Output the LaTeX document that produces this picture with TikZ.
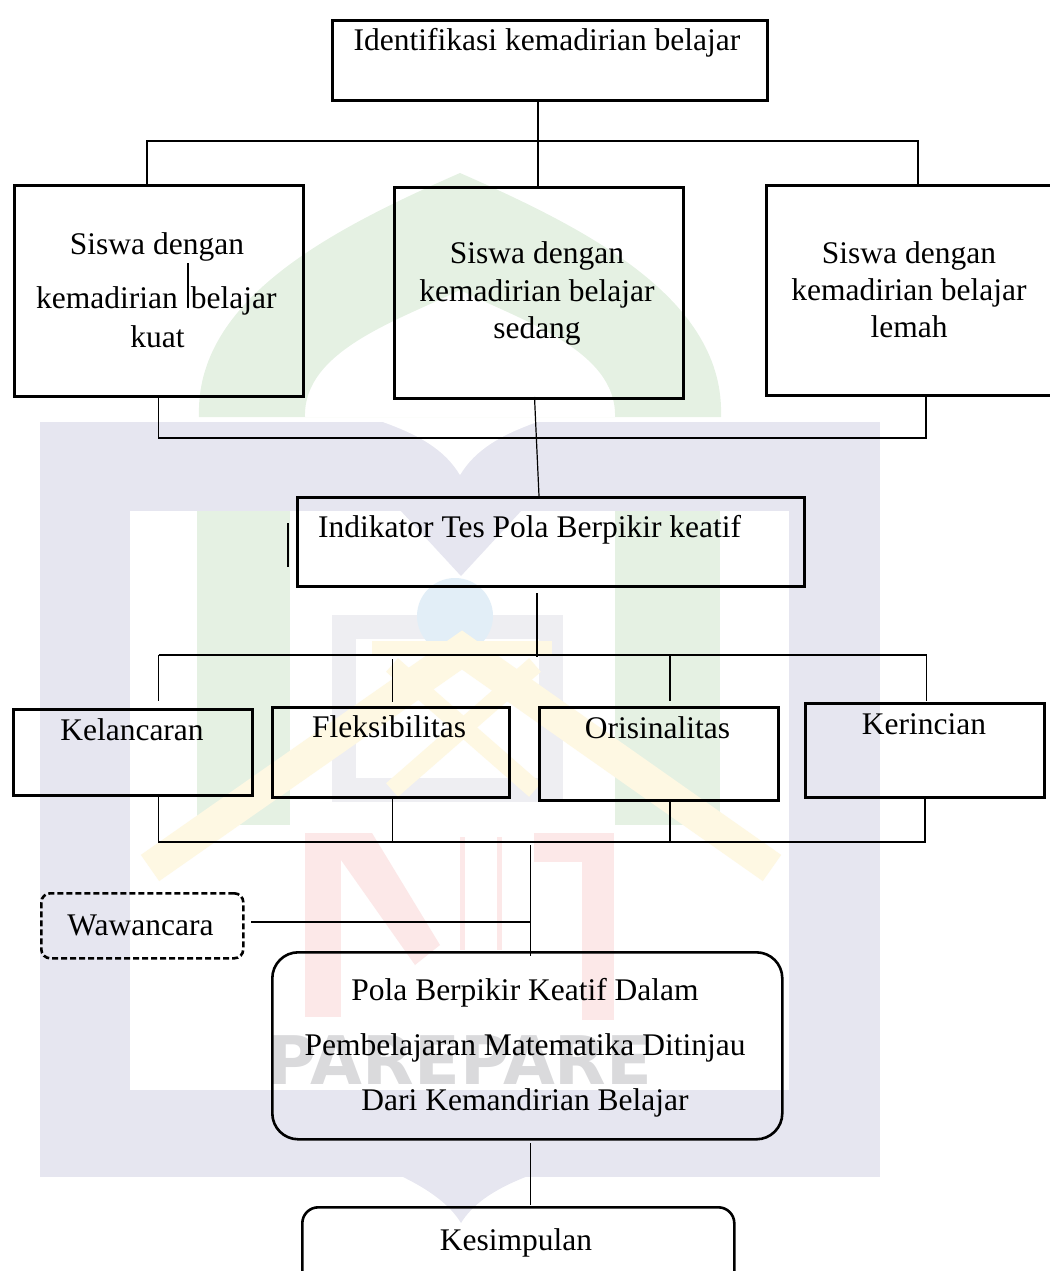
\documentclass[tikz,border=0pt]{standalone}
\usepackage{fontspec}
\setmainfont{Liberation Serif}
\newfontfamily\wmfont{DejaVu Sans}
\definecolor{wmlav}{HTML}{E6E6F0}
\definecolor{wmgreen}{HTML}{E5F1E3}
\definecolor{wmyel}{HTML}{FEF8E3}
\definecolor{wmred}{HTML}{FCE8E8}
\definecolor{wmblue}{HTML}{E2EEF7}
\definecolor{wmframe}{HTML}{EEEEF2}
\definecolor{wmgrey}{HTML}{DADADC}
\tikzset{
  boxn/.style={draw=black, line width=2.6pt, inner sep=0pt, anchor=north west},
  txt/.style={inner sep=0pt, anchor=base, font=\fontsize{31.5}{36}\selectfont},
  conn/.style={line width=1.2pt, black},
}
\begin{document}
\begin{tikzpicture}[x=1pt,y=-1pt]
\useasboundingbox (0,0) rectangle (1049,1271);
% ---------- watermark ----------
\fill[wmlav] (40,422) rectangle (880,1177);
\fill[wmlav] (401,1176) .. controls (430,1190) and (450,1205) .. (461,1223) .. controls (472,1205) and (492,1190) .. (528,1176) -- cycle;
\fill[white] (130,511) rectangle (789,1090);
\fill[wmlav] (400,510) -- (461,576) -- (522,510) -- cycle;
\fill[white] (380,421) .. controls (420,435) and (445,450) .. (460,475) .. controls (475,450) and (500,435) .. (540,421) -- cycle;
\fill[wmgreen, even odd rule] (199,417) .. controls (195,300) and (330,230) .. (460,173) .. controls (590,230) and (725,300) .. (721,417) -- cycle
  (305,417) .. controls (303,350) and (400,320) .. (460,290) .. controls (520,320) and (617,350) .. (615,417) -- cycle;
\fill[wmgreen] (197,511) rectangle (290,825);
\fill[wmgreen] (615,511) rectangle (720,825);
\draw[wmframe, line width=24pt] (344,627) rectangle (551,790);
\fill[wmblue] (455,616) circle[radius=38];
\draw[wmyel, line width=32pt, line join=miter] (150,868) -- (462,650) -- (772,868);
\draw[wmyel, line width=14pt] (372,648) -- (552,648);
\draw[wmyel, line width=18pt] (392,665) -- (535,790) (535,665) -- (392,790);
\fill[wmred] (305,833) rectangle (341,1017);
\fill[wmred] (341,833) -- (372,833) -- (440,945) -- (415,965) -- (341,860) -- cycle;
\fill[wmred] (534,833) rectangle (614,862);
\fill[wmred] (582,833) rectangle (614,1020);
\draw[wmred, line width=5pt] (462,837) -- (462,950) (499,837) -- (499,950);
\node[font=\wmfont\bfseries\fontsize{67}{67}\selectfont, text=wmgrey, anchor=base, inner sep=0pt] (wm) at (460,1084) {PAREPARE};
% ---------- boxes ----------
\node[boxn, minimum width=435pt, minimum height=80pt] (top) at (331,19) {};
\node[boxn, minimum width=289pt, minimum height=211pt] (kuat) at (13,184) {};
\node[boxn, minimum width=289pt, minimum height=211pt] (sedang) at (393,186) {};
\node[boxn, minimum width=292pt, minimum height=210pt] (lemah) at (765,184) {};
\node[boxn, minimum width=507pt, minimum height=89pt] (indik) at (296,496) {};
\node[boxn, minimum width=239pt, minimum height=86pt] (kel) at (12,708) {};
\node[boxn, minimum width=237pt, minimum height=90pt] (fle) at (271,706) {};
\node[boxn, minimum width=239pt, minimum height=93pt] (ori) at (538,706) {};
\node[boxn, minimum width=239pt, minimum height=94pt] (ker) at (804,702) {};
\node[boxn, minimum width=202pt, minimum height=65pt, rounded corners=9pt, dash pattern=on 6pt off 3pt] (waw) at (40,892) {};
\node[boxn, minimum width=510pt, minimum height=187pt, rounded corners=26pt] (pola) at (271,951) {};
\node[boxn, minimum width=432pt, minimum height=95pt, rounded corners=16pt] (kes) at (301,1206) {};
% ---------- texts ----------
\node[txt] (ttop) at (547,51) {Identifikasi kemadirian belajar};
\node[txt] (tk1) at (157,254) {Siswa dengan};
\node[txt, anchor=base west] (tk2) at (36,308) {kemadirian\hspace{13pt}belajar};
\node[txt] (tk3) at (157.5,347) {kuat};
\node[txt] (ts1) at (537,263) {Siswa dengan};
\node[txt] (ts2) at (537,301) {kemadirian belajar};
\node[txt] (ts3) at (537,338) {sedang};
\node[txt] (tl1) at (909,263) {Siswa dengan};
\node[txt] (tl2) at (909,300) {kemadirian belajar};
\node[txt] (tl3) at (909,337) {lemah};
\node[txt, anchor=base west] (ti) at (318,537) {Indikator Tes Pola Berpikir keatif};
\node[txt] (tkel) at (132,740) {Kelancaran};
\node[txt] (tfle) at (389,737) {Fleksibilitas};
\node[txt] (tori) at (657.5,738) {Orisinalitas};
\node[txt] (tker) at (924,734) {Kerincian};
\node[txt] (twaw) at (140.5,935) {Wawancara};
\node[txt] (tp1) at (525,1000) {Pola Berpikir Keatif Dalam};
\node[txt] (tp2) at (525,1055) {Pembelajaran Matematika Ditinjau};
\node[txt] (tp3) at (525,1110) {Dari Kemandirian Belajar};
\node[txt] (tkes) at (516,1250) {Kesimpulan};
% ---------- connectors ----------
\coordinate (c1) at (538,141);
\coordinate (hl) at (147,141);
\coordinate (hr) at (918,141);
\draw[conn] (c1 |- top.south) -- (c1 |- sedang.north);
\draw[conn] (hl |- kuat.north) -- (hl) -- (hr) -- (hr |- lemah.north);
\coordinate (bl) at (158.5,438);
\coordinate (br) at (926,438);
\draw[conn] (bl |- kuat.south) -- (bl) -- (br) -- (br |- lemah.south);
\coordinate (s1) at (534.5,397);
\coordinate (s2) at (539,496);
\draw[conn] (s1) -- (s2);
\coordinate (i1) at (537,593);
\coordinate (i2) at (537,657);
\draw[conn] (i1) -- (i2);
\coordinate (ml) at (158.5,655);
\coordinate (mr) at (926.5,655);
\draw[conn] (ml) -- (mr);
\coordinate (xa) at (158.5,701);
\coordinate (xb1) at (392.6,659);
\coordinate (xb2) at (392.6,702);
\coordinate (xc) at (670,701);
\coordinate (xd) at (926.5,701);
\draw[conn] (ml) -- (xa);
\draw[conn] (xb1) -- (xb2);
\draw[conn] (xc |- ml) -- (xc);
\draw[conn] (mr) -- (xd);
\coordinate (ll) at (158.5,842);
\coordinate (lr) at (925,842);
\draw[conn] (ll |- kel.south) -- (ll) -- (lr) -- (lr |- ker.south);
\draw[conn] (392.6,796) -- (392.6,842);
\draw[conn] (670,799) -- (670,842);
\coordinate (v1) at (530.5,845);
\coordinate (v2) at (530.5,956);
\draw[conn] (v1) -- (v2);
\coordinate (w1) at (251,922);
\draw[conn] (w1) -- (w1 -| v1);
\coordinate (p1) at (530.5,1143);
\coordinate (p2) at (530.5,1205);
\draw[conn] (p1) -- (p2);
% stray marks
\draw[line width=2pt] (188,263) -- (188,308);
\draw[line width=1.1pt] (288,523) -- (288,567);
\end{tikzpicture}
\end{document}
